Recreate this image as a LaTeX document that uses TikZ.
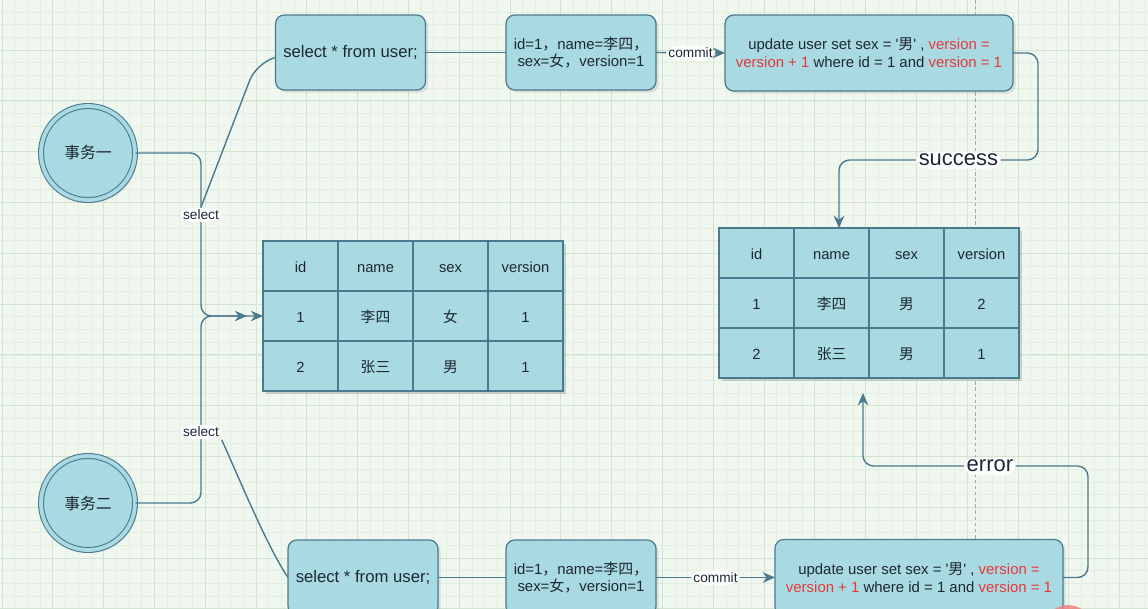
\documentclass[tikz,border=0pt]{standalone}
\usepackage{fontspec}
\setmainfont{Liberation Sans}
\newfontfamily\cjk{Noto Sans CJK SC}
\usetikzlibrary{arrows.meta,shadows}
\definecolor{bgMint}{HTML}{EFF7EF}
\definecolor{gridLight}{HTML}{E2EEE1}
\definecolor{gridDark}{HTML}{D2E3D1}
\definecolor{boxFill}{HTML}{AADAE1}
\definecolor{boxLine}{HTML}{4B7A8F}
\definecolor{textDark}{HTML}{1C2834}
\definecolor{sqlRed}{HTML}{E5383B}
\definecolor{guideGray}{HTML}{A3ABA8}

\begin{document}
\begin{tikzpicture}[x=0.02cm, y=-0.02cm,
  every node/.style={font=\fontsize{9.5}{10.8}\selectfont, text=textDark},
  box/.style={draw=boxLine, fill=boxFill, line width=0.7pt, rounded corners=5pt,
              minimum width=3cm, minimum height=1.5cm, align=center, outer sep=0pt,
              inner sep=1pt,
              drop shadow={shadow xshift=1.5pt, shadow yshift=-1.5pt, opacity=0.2}},
  small/.style={font=\fontsize{8.5}{10.2}\selectfont},
  cell/.style={draw=boxLine, fill=boxFill, line width=0.6pt, minimum width=1.5cm,
               minimum height=1cm, outer sep=0pt, text height=1.6ex, text depth=0.3ex,
               font=\fontsize{8.4}{10}\selectfont},
  evt/.style={circle, draw=boxLine, line width=0.6pt, double=boxFill, double distance=2.2pt,
              fill=boxFill, minimum size=1.88cm, font=\fontsize{9}{10}\selectfont,
              drop shadow={shadow xshift=1.5pt, shadow yshift=-1.5pt, opacity=0.2}},
  lbl/.style={fill=white, inner sep=1.2pt, font=\fontsize{7.8}{9}\selectfont},
  res/.style={fill=white, inner sep=1.5pt, font=\fontsize{12.5}{14}\selectfont},
  conn/.style={draw=boxLine, line width=0.8pt, rounded corners=6pt},
  arr/.style={conn, -{Stealth[length=7pt, width=6pt]}}]

\useasboundingbox (0,0) rectangle (1148,608);
\clip (0,0) rectangle (1148,608);
\fill[bgMint] (0,0) rectangle (1148,608);
\foreach \k in {0,...,90} \draw[gridLight, line width=0.4pt] ({2+12.7*\k},0) -- ({2+12.7*\k},608);
\foreach \k in {0,...,48} \draw[gridLight, line width=0.4pt] (0,{-0.7+12.7*\k}) -- (1148,{-0.7+12.7*\k});
\foreach \k in {0,...,22} \draw[gridDark, line width=0.5pt] ({2+50.8*\k},0) -- ({2+50.8*\k},608);
\foreach \k in {0,...,12} \draw[gridDark, line width=0.5pt] (0,{-0.7+50.8*\k}) -- (1148,{-0.7+50.8*\k});
\draw[guideGray, line width=0.4pt, dash pattern=on 2pt off 1.5pt] (975,0) -- (975,608);

\node[evt] (ev1) at (88,153) {{\cjk 事务一}};
\node[evt] (ev2) at (88,503) {{\cjk 事务二}};

\node[box] (q1) at (350.5,52.5) {select * from user;};
\node[box, small] (r1) at (581,52.5) {id=1{\cjk ，}name={\cjk 李四，}\\sex={\cjk 女，}version=1};
\node[box, small, minimum width=5.76cm, minimum height=1.52cm] (u1) at (869,53)
  {update user set sex = \textquotesingle{\cjk 男}\textquotesingle\ , \textcolor{sqlRed}{version =}\\
   \textcolor{sqlRed}{version + 1} where id = 1 and \textcolor{sqlRed}{version = 1}};

\node[box] (q2) at (363,577.5) {select * from user;};
\node[box, small] (r2) at (581,577.5) {id=1{\cjk ，}name={\cjk 李四，}\\sex={\cjk 女，}version=1};
\node[box, small, minimum width=5.76cm, minimum height=1.52cm] (u2) at (919,577.5)
  {update user set sex = \textquotesingle{\cjk 男}\textquotesingle\ , \textcolor{sqlRed}{version =}\\
   \textcolor{sqlRed}{version + 1} where id = 1 and \textcolor{sqlRed}{version = 1}};

\fill[black, opacity=0.15] (266,244) rectangle (566,394);
\foreach \a/\b/\c/\d [count=\r from 0] in {id/name/sex/version, 1/{\cjk 李四}/{\cjk 女}/1, 2/{\cjk 张三}/{\cjk 男}/1}{
  \node[cell] (lt-\r-1) at (300.5,266+50*\r) {\a};
  \node[cell] (lt-\r-2) at (375.5,266+50*\r) {\b};
  \node[cell] (lt-\r-3) at (450.5,266+50*\r) {\c};
  \node[cell] (lt-\r-4) at (525.5,266+50*\r) {\d};
}
\fill[black, opacity=0.15] (722,231) rectangle (1022,381);
\foreach \a/\b/\c/\d [count=\r from 0] in {id/name/sex/version, 1/{\cjk 李四}/{\cjk 男}/2, 2/{\cjk 张三}/{\cjk 男}/1}{
  \node[cell] (rt-\r-1) at (756.5,253+50*\r) {\a};
  \node[cell] (rt-\r-2) at (831.5,253+50*\r) {\b};
  \node[cell] (rt-\r-3) at (906.5,253+50*\r) {\c};
  \node[cell] (rt-\r-4) at (981.5,253+50*\r) {\d};
}
\coordinate (errEnd) at (863,393);

\draw[arr] (ev1.east) -| (201,316) node[lbl, pos=0.69] (s1) {select} -- (lt-1-1.west);
\draw[arr, shorten >=0.32cm] (ev2.east) -| (201,316) node[lbl, pos=0.69] (s2) {select} -- (lt-1-1.west);
\draw[conn, rounded corners=10pt] (s1.north) -- (256,64) -- ([yshift=-0.1cm]q1.west);
\draw[conn] (s2.south east) .. controls (242,485) and (268,548) .. (q2.west);
\draw[conn] (q1.east) -- (r1.west);
\draw[conn] (q2.east) -- (r2.west);
\draw[arr] (r1.east) -- node[lbl] {commit} (u1.west);
\draw[arr] (r2.east) -- node[lbl] {commit} (u2.west);
\draw[arr] (u1.east) -| (1038,160) -| node[res, pos=0.2] {success} ([xshift=0.15cm]rt-0-2.north);
\draw[arr] (u2.east) -| (1088,466) -| node[res, pos=0.218] {error} (errEnd);

\fill[sqlRed!65, opacity=0.8] (1068,630) circle (0.5cm);
\end{tikzpicture}
\end{document}
